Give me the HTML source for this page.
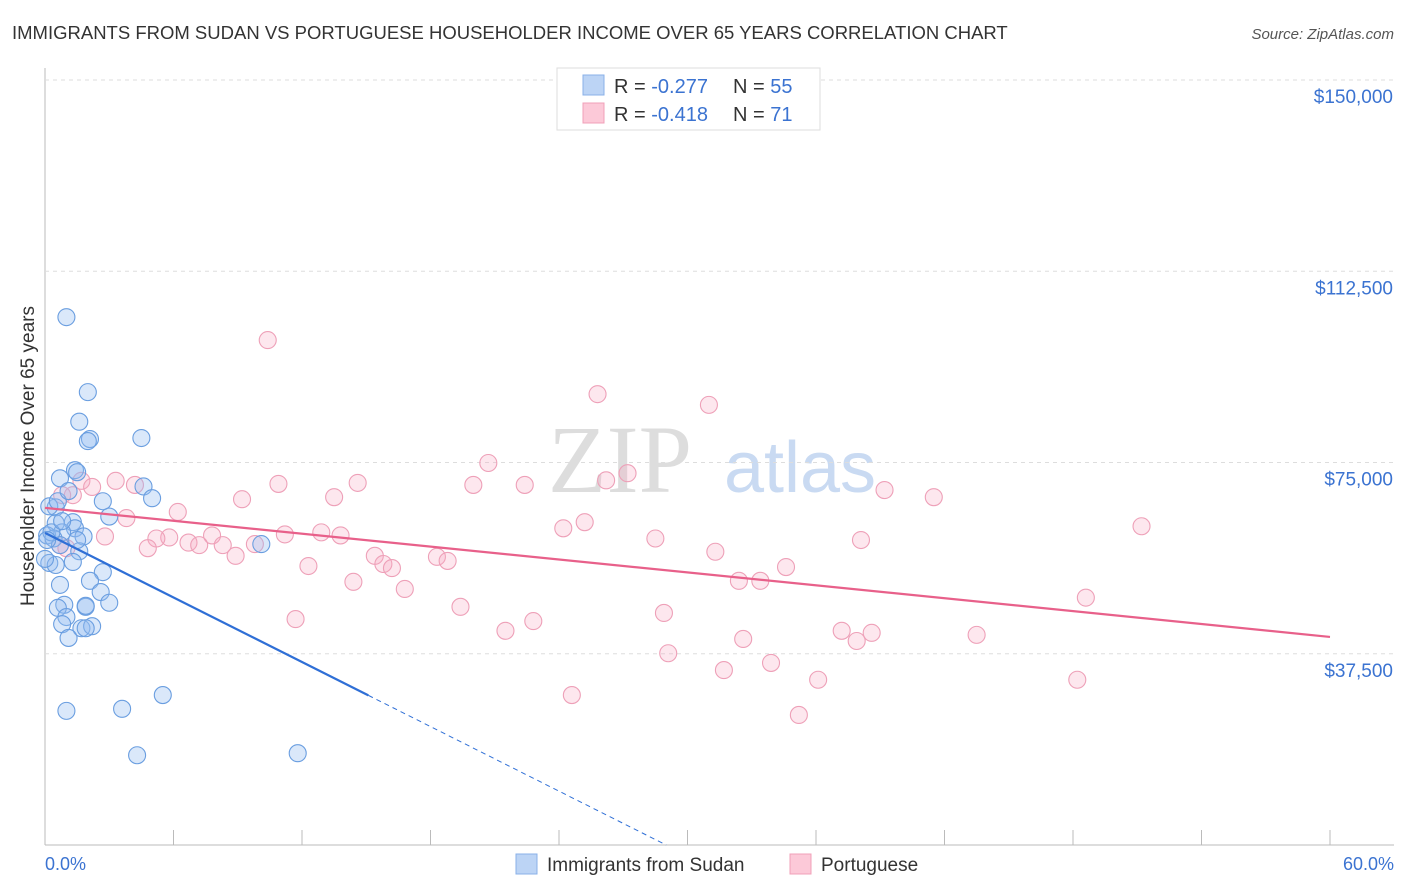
<!DOCTYPE html>
<html><head><meta charset="utf-8">
<style>
body{margin:0;background:#fff;font-family:"Liberation Sans",sans-serif;}
svg{display:block}
</style></head><body>
<svg id="chart" width="1406" height="892">
<text x="12" y="39" font-size="18.5" fill="#333">IMMIGRANTS FROM SUDAN VS PORTUGUESE HOUSEHOLDER INCOME OVER 65 YEARS CORRELATION CHART</text>
<text x="1394" y="39" font-size="15" fill="#555" font-style="italic" text-anchor="end">Source: ZipAtlas.com</text>
<text x="0" y="0" transform="translate(34,456) rotate(-90)" font-size="19" fill="#333" text-anchor="middle">Householder Income Over 65 years</text>
<text x="620" y="492" font-size="96" fill="#ddd" font-family="Liberation Serif,serif" text-anchor="middle">ZIP</text>
<text x="800" y="492" font-size="72" fill="#c9daf2" text-anchor="middle">atlas</text>
<g id="grid"></g>
<g id="pts"></g>
<g id="lines"></g>
<g>
<rect x="557" y="68" width="263" height="62" fill="#fff" stroke="#ddd"/>
<rect x="583" y="75" width="21" height="20" fill="#bcd4f5" stroke="#8ab0e8"/>
<rect x="583" y="103" width="21" height="20" fill="#fcc9d8" stroke="#f0a0b8"/>
<text x="614" y="93" font-size="20" fill="#333">R = <tspan fill="#3b73d1">-0.277</tspan></text>
<text x="733" y="93" font-size="20" fill="#333">N = <tspan fill="#3b73d1">55</tspan></text>
<text x="614" y="121" font-size="20" fill="#333">R = <tspan fill="#3b73d1">-0.418</tspan></text>
<text x="733" y="121" font-size="20" fill="#333">N = <tspan fill="#3b73d1"> 71</tspan></text>
</g>
<g>
<rect x="516" y="854" width="21" height="20" fill="#bcd4f5" stroke="#8ab0e8"/>
<text x="547" y="871" font-size="19" fill="#333">Immigrants from Sudan</text>
<rect x="790" y="854" width="21" height="20" fill="#fcc9d8" stroke="#f0a0b8"/>
<text x="821" y="871" font-size="19" fill="#333">Portuguese</text>
</g>
<text x="45" y="870" font-size="18" fill="#3b73d1">0.0%</text>
<text x="1394" y="870" font-size="18" fill="#3b73d1" text-anchor="end">60.0%</text>
</svg>
<script>
const yTicks=[150000,112500,75000,37500];
const yTickLabels=["$150,000","$112,500","$75,000","$37,500"];
const sudanX=[1.0,2.0,1.6,2.1,2.0,4.5,1.4,1.5,0.7,4.6,5.0,2.7,3.0,0.5,0.2,0.5,1.3,1.4,0.8,1.8,0.1,0.4,0.7,1.6,0.2,0.5,1.3,2.7,2.1,0.7,2.6,3.0,0.9,0.6,1.9,1.9,1.0,0.8,1.7,2.2,1.1,10.1,1.0,3.6,5.5,4.3,11.8,0.3,0.1,0.6,0.0,0.8,1.1,1.5,1.9];
const sudanY=[103500,88800,83000,79600,79200,79800,73500,73100,71900,70300,68000,67400,64400,66200,66400,63100,63300,62100,61300,60500,60700,60100,58800,57600,55300,54900,55500,53500,51800,51000,49600,47500,47100,46500,46700,46900,44700,43300,42500,42900,40600,59000,26300,26700,29400,17600,18000,61300,59800,67400,56100,63500,69400,59800,42500];
const portX=[10.4,25.8,31.0,20.7,27.2,26.2,20.0,22.4,14.6,10.9,1.7,3.3,2.2,4.2,1.3,0.8,9.2,13.5,39.2,41.5,51.2,6.2,3.8,25.2,24.2,28.5,38.1,2.8,7.8,5.8,5.2,6.7,7.2,8.3,9.8,11.2,12.9,13.8,0.7,1.0,4.8,8.9,15.4,18.3,18.8,15.8,16.2,12.3,31.3,34.6,32.4,33.4,14.4,16.8,19.4,11.7,22.8,21.5,28.9,37.2,38.6,37.9,43.5,48.6,29.1,32.6,33.9,31.7,36.1,48.2,24.6,35.2];
const portY=[99000,88400,86300,74900,72900,71500,70600,70600,71000,70800,71400,71400,70200,70600,68600,68600,67800,68200,69600,68200,62500,65300,64100,63300,62100,60100,59800,60500,60700,60300,60100,59300,58800,58800,59000,60900,61300,60700,58800,58200,58200,56700,56700,56500,55700,55100,54300,54700,57500,54500,51800,51800,51600,50200,46700,44300,43900,42000,45500,42000,41600,40000,41200,48500,37600,40400,35700,34300,32400,32400,29400,25500];
const regSudan=[61200,-2110];
const regPort=[66100,-421.7];
const X0=45,X1=1330,YB=845,YT=80;
const xs=v=>X0+(X1-X0)*v/60;
const ys=v=>YB-(YB-YT)*v/150000;
const NS="http://www.w3.org/2000/svg";
function mk(tag,attrs,parent){const e=document.createElementNS(NS,tag);for(const k in attrs)e.setAttribute(k,attrs[k]);parent.appendChild(e);return e;}
const grid=document.getElementById('grid');
let ax=mk('line',{x1:45,y1:68,x2:45,y2:845,stroke:'#bbb'},grid);


let bx=mk('line',{x1:45,y1:845,x2:1394,y2:845,stroke:'#bbb'},grid);


for(let i=0;i<=10;i++){const x=X0+(X1-X0)*i/10;
 const t=mk('line',{x1:x,y1:830,x2:x,y2:845,stroke:'#bbb'},grid);
 
 }
yTicks.forEach((v,i)=>{
 const g=mk('line',{x1:45,y1:ys(v),x2:1394,y2:ys(v),stroke:'#ddd','stroke-dasharray':'4 4'},grid);
 
 
 const t=mk('text',{x:1393,y:ys(v)+23,'font-size':19,fill:'#3b73d1','text-anchor':'end'},grid);
 t.textContent=yTickLabels[i];
 
 
});
const pts=document.getElementById('pts');
portX.forEach((x,i)=>{const c=mk('circle',{cx:xs(x),cy:ys(portY[i]),r:8.5,fill:'rgba(248,170,195,0.28)',stroke:'#eea0b8','stroke-width':1.1},pts);
 
 });
sudanX.forEach((x,i)=>{const c=mk('circle',{cx:xs(x),cy:ys(sudanY[i]),r:8.5,fill:'rgba(150,190,240,0.35)',stroke:'#6a9ee0','stroke-width':1.1},pts);
 
 });
const lines=document.getElementById('lines');
const bEnd=15.1, bZero=-regSudan[0]/regSudan[1];
let l1=mk('line',{x1:xs(0),y1:ys(regSudan[0]),x2:xs(bEnd),y2:ys(regSudan[0]+regSudan[1]*bEnd),stroke:'#2f6fd6','stroke-width':2.2},lines);


let l2=mk('line',{x1:xs(bEnd),y1:ys(regSudan[0]+regSudan[1]*bEnd),x2:xs(bZero),y2:ys(0),stroke:'#2f6fd6','stroke-width':1,'stroke-dasharray':'5 4'},lines);


let l3=mk('line',{x1:xs(0),y1:ys(regPort[0]),x2:xs(60),y2:ys(regPort[0]+regPort[1]*60),stroke:'#e8608a','stroke-width':2.2},lines);


</script>
</body></html>
